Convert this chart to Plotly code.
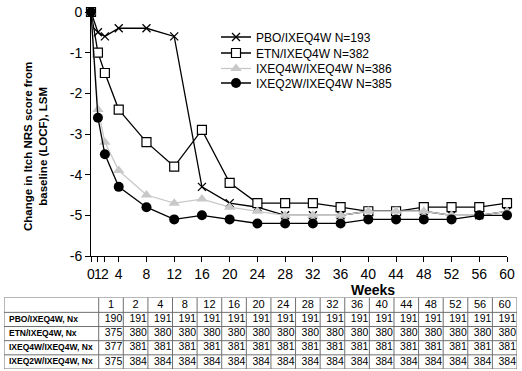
import plotly.graph_objects as go

# ---------------- data ----------------
weeks = [0, 1, 2, 4, 8, 12, 16, 20, 24, 28, 32, 36, 40, 44, 48, 52, 56, 60]

pbo = [0, -0.5, -0.6, -0.4, -0.4, -0.6, -4.3, -4.7, -4.8, -5.0, -5.0, -5.0, -4.9, -4.9, -4.9, -5.0, -5.0, -4.9]
etn = [0, -1.0, -1.5, -2.4, -3.2, -3.8, -2.9, -4.2, -4.7, -4.7, -4.7, -4.8, -4.9, -4.9, -4.8, -4.8, -4.8, -4.7]
ixe4 = [0, -2.4, -3.2, -3.9, -4.5, -4.7, -4.6, -4.8, -4.9, -5.0, -5.0, -5.0, -4.9, -4.9, -4.9, -5.0, -5.0, -4.9]
ixe2 = [0, -2.6, -3.5, -4.3, -4.8, -5.1, -5.0, -5.1, -5.2, -5.2, -5.2, -5.2, -5.1, -5.1, -5.1, -5.1, -5.0, -5.0]

series_names = ["PBO/IXEQ4W N=193", "ETN/IXEQ4W N=382", "IXEQ4W/IXEQ4W N=386", "IXEQ2W/IXEQ4W N=385"]

x_tickvals = [0, 1, 2, 4, 8, 12, 16, 20, 24, 28, 32, 36, 40, 44, 48, 52, 56, 60]
x_ticktext = ["0", "1", "2", "4", "8", "12", "16", "20", "24", "28", "32", "36", "40", "44", "48", "52", "56", "60"]
y_tickvals = [0, -1, -2, -3, -4, -5, -6]
y_ticktext = ["0", "-1", "-2", "-3", "-4", "-5", "-6"]

table_weeks = ["1", "2", "4", "8", "12", "16", "20", "24", "28", "32", "36", "40", "44", "48", "52", "56", "60"]
table_rows = ["PBO/IXEQ4W, Nx", "ETN/IXEQ4W, Nx", "IXEQ4W/IXEQ4W, Nx", "IXEQ2W/IXEQ4W, Nx"]
n_pbo = [190, 191, 191, 191, 191, 191, 191, 191, 191, 191, 191, 191, 191, 191, 191, 191, 191]
n_etn = [375, 380, 380, 380, 380, 380, 380, 380, 380, 380, 380, 380, 380, 380, 380, 380, 380]
n_ixe4 = [377, 381, 381, 381, 381, 381, 381, 381, 381, 381, 381, 381, 381, 381, 381, 381, 381]
n_ixe2 = [375, 384, 384, 384, 384, 384, 384, 384, 384, 384, 384, 384, 384, 384, 384, 384, 384]

# ---------------- layout constants ----------------
FONT = "Arial, Liberation Sans, sans-serif"
W, H = 522, 371
ML, MR, MT, MB = 3, 4, 12, 1
PW, PH = W - ML - MR, H - MT - MB


def px_x(p):
    return (p - ML) / PW


def px_y(p):
    return (H - MB - p) / PH


fig = go.Figure()

# ---------------- line chart ----------------
styles = [
    dict(color="black", marker=dict(symbol="x-thin", size=8, color="black", line=dict(color="black", width=1.3))),
    dict(color="black", marker=dict(symbol="square", size=9, color="white", line=dict(color="black", width=1.2))),
    dict(color="#C8C8C8", marker=dict(symbol="triangle-up", size=10, color="#C8C8C8", line=dict(width=0))),
    dict(color="black", marker=dict(symbol="circle", size=10, color="black", line=dict(width=0))),
]
legend_ids = ["legend", "legend2", "legend3", "legend4"]
legend_ypx = [37, 53, 68.5, 83]
for name, ys, st, lg in zip(series_names, [pbo, etn, ixe4, ixe2], styles, legend_ids):
    fig.add_trace(go.Scatter(
        x=weeks, y=ys, name=name, mode="lines+markers",
        line=dict(color=st["color"], width=1.3),
        marker=st["marker"], cliponaxis=False, legend=lg,
    ))

# ---------------- table (drawn on its own axes) ----------------
TBL_L, TBL_R, TBL_T, TBL_B = 4, 517, 297.5, 369
FIRST_W = 94.7
HEADER_H = 1.05  # header row slightly taller than data rows (row units)
ncol = len(table_weeks)
col_w = (TBL_R - TBL_L - FIRST_W) / ncol
bounds = [0, FIRST_W] + [FIRST_W + col_w * (i + 1) for i in range(ncol)]
row_lines = [0, HEADER_H] + [HEADER_H + i + 1 for i in range(len(table_rows))]
y_total = row_lines[-1]

# header text (centered in each column)
fig.add_trace(go.Scatter(
    x=[(bounds[i + 1] + bounds[i + 2]) / 2 for i in range(ncol)], y=[HEADER_H / 2] * ncol,
    text=table_weeks,
    mode="text", textposition="middle center", xaxis="x2", yaxis="y2",
    textfont=dict(family=FONT, size=11, color="black"),
    showlegend=False, hoverinfo="skip", cliponaxis=False,
))
# row labels
fig.add_trace(go.Scatter(
    x=[5] * len(table_rows), y=[HEADER_H + r + 0.5 for r in range(len(table_rows))],
    text=["<b>%s</b>" % t for t in table_rows],
    mode="text", textposition="middle right", xaxis="x2", yaxis="y2",
    textfont=dict(family=FONT, size=8.5, color="black"),
    showlegend=False, hoverinfo="skip", cliponaxis=False,
))
# numbers (right aligned)
for r, vals in enumerate([n_pbo, n_etn, n_ixe4, n_ixe2]):
    fig.add_trace(go.Scatter(
        x=[bounds[i + 2] - 1 for i in range(ncol)], y=[HEADER_H + r + 0.5] * ncol,
        text=[str(v) for v in vals],
        mode="text", textposition="middle left", xaxis="x2", yaxis="y2",
        textfont=dict(family=FONT, size=10.5, color="black"),
        showlegend=False, hoverinfo="skip", cliponaxis=False,
    ))

shapes = []
grid = dict(color="#707070", width=1)
for rl in row_lines:
    shapes.append(dict(type="line", xref="x2", yref="y2", x0=0, x1=bounds[-1], y0=rl, y1=rl, line=grid))
for b in bounds:
    shapes.append(dict(type="line", xref="x2", yref="y2", x0=b, x1=b, y0=0, y1=y_total, line=grid))

legends = {}
for lg, ypx in zip(legend_ids, legend_ypx):
    legends[lg] = dict(x=px_x(216), y=px_y(ypx), xanchor="left", yanchor="middle",
                       font=dict(size=12, family=FONT, color="black"),
                       bgcolor="rgba(0,0,0,0)", borderwidth=0, itemwidth=30)

fig.update_layout(
    width=W, height=H,
    margin=dict(l=ML, r=MR, t=MT, b=MB, autoexpand=False),
    paper_bgcolor="white", plot_bgcolor="white",
    font=dict(family=FONT, color="black"),
    showlegend=True,
    xaxis=dict(domain=[px_x(91), px_x(507)], range=[0, 60],
               tickvals=x_tickvals, ticktext=x_ticktext, tickangle=0,
               ticks="outside", ticklen=5, tickwidth=1, tickcolor="black",
               showline=True, linecolor="black", linewidth=1, automargin=False,
               showgrid=False, zeroline=False, tickfont=dict(size=14)),
    yaxis=dict(domain=[px_y(256), px_y(12)], range=[-6, 0],
               tickvals=y_tickvals, ticktext=y_ticktext,
               ticks="outside", ticklen=5, tickwidth=1, tickcolor="black",
               showline=True, linecolor="black", linewidth=1, automargin=False,
               showgrid=False, zeroline=False, tickfont=dict(size=14)),
    xaxis2=dict(domain=[px_x(TBL_L), px_x(TBL_R)], range=[0, TBL_R - TBL_L],
                visible=False, anchor="y2"),
    yaxis2=dict(domain=[px_y(TBL_B), px_y(TBL_T)], range=[y_total, 0],
                visible=False, anchor="x2"),
    shapes=shapes,
    annotations=[
        dict(text="<b>Change in Itch NRS score from<br>baseline (LOCF), LSM</b>",
             x=px_x(35), y=px_y(147), xref="paper", yref="paper",
             textangle=-90, showarrow=False, font=dict(size=11.5),
             xanchor="center", yanchor="middle"),
        dict(text="<b>Weeks</b>", x=px_x(373), y=px_y(290), xref="paper", yref="paper",
             showarrow=False, font=dict(size=14), xanchor="center", yanchor="middle"),
    ],
    **legends,
)

fig.write_html("out.html", config={"displayModeBar": False},
               post_script="document.body.style.margin='0px';document.body.style.overflow='hidden';")
